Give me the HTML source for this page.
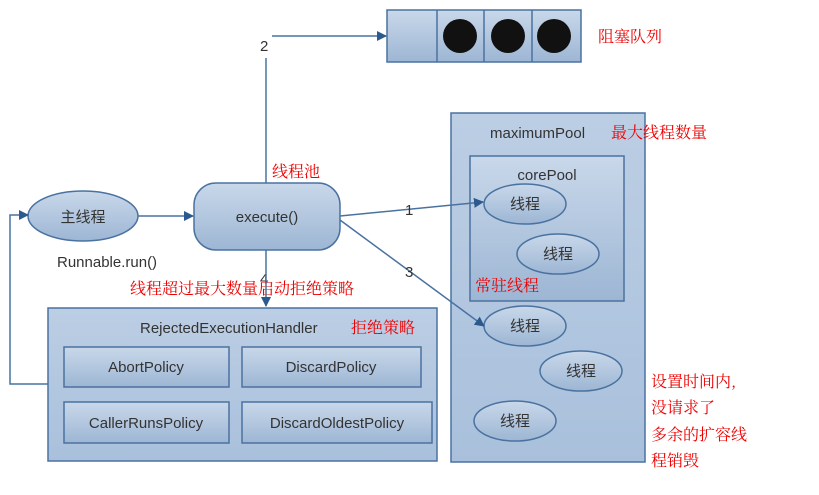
<!DOCTYPE html>
<html><head><meta charset="utf-8"><style>
body{margin:0;background:#fff;width:819px;height:490px;overflow:hidden}
text{font-family:"Liberation Sans","Noto Sans CJK SC",sans-serif}
.r{fill:#e00;font-family:"Noto Serif CJK SC","WenQuanYi Zen Hei",serif;font-size:16px}
.k{fill:#333;font-size:15px}
</style></head><body>
<svg width="819" height="490" xmlns="http://www.w3.org/2000/svg">
<defs>
<linearGradient id="g" x1="0" y1="0" x2="0" y2="1"><stop offset="0" stop-color="#c9d8ea"/><stop offset="1" stop-color="#9db6d4"/></linearGradient>
<linearGradient id="g2" x1="0" y1="0" x2="0" y2="1"><stop offset="0" stop-color="#bccee4"/><stop offset="1" stop-color="#a9c0dc"/></linearGradient>
<marker id="a" markerWidth="10" markerHeight="10" refX="9" refY="5" orient="auto" markerUnits="userSpaceOnUse"><path d="M0,0L10,5L0,10z" fill="#2d5a8e"/></marker>
</defs>
<!-- queue -->
<rect x="387" y="10" width="194" height="52" fill="url(#g)" stroke="#4a72a0" stroke-width="1.5"/>
<g stroke="#4a72a0" stroke-width="1.5"><line x1="437" y1="10" x2="437" y2="62"/><line x1="484" y1="10" x2="484" y2="62"/><line x1="532" y1="10" x2="532" y2="62"/></g>
<g fill="#111"><circle cx="460" cy="36" r="17"/><circle cx="508" cy="36" r="17"/><circle cx="554" cy="36" r="17"/></g>
<text x="598" y="42" class="r">阻塞队列</text>
<!-- main -->
<ellipse cx="83" cy="216" rx="55" ry="25" fill="url(#g)" stroke="#4a72a0" stroke-width="1.5"/>
<text x="83" y="222" class="k" text-anchor="middle">主线程</text>
<text x="57" y="267" class="k">Runnable.run()</text>
<rect x="194" y="183" width="146" height="67" rx="22" fill="url(#g)" stroke="#4a72a0" stroke-width="1.5"/>
<text x="267" y="222" class="k" text-anchor="middle">execute()</text>
<text x="272" y="177" class="r">线程池</text>
<text x="260" y="51" class="k">2</text>
<text x="260" y="284" class="k">4</text>
<text x="130" y="294" class="r">线程超过最大数量启动拒绝策略</text>
<!-- rejected -->
<rect x="48" y="308" width="389" height="153" fill="url(#g2)" stroke="#4a72a0" stroke-width="1.5"/>
<text x="140" y="333" class="k">RejectedExecutionHandler</text>
<text x="351" y="333" class="r">拒绝策略</text>
<g fill="url(#g)" stroke="#4a72a0" stroke-width="1.5">
<rect x="64" y="347" width="165" height="40"/><rect x="242" y="347" width="179" height="40"/>
<rect x="64" y="402" width="165" height="41"/><rect x="242" y="402" width="190" height="41"/></g>
<g text-anchor="middle">
<text x="146" y="372" class="k">AbortPolicy</text><text x="331" y="372" class="k">DiscardPolicy</text>
<text x="146" y="428" class="k">CallerRunsPolicy</text><text x="337" y="428" class="k">DiscardOldestPolicy</text></g>
<!-- maximum pool -->
<rect x="451" y="113" width="194" height="349" fill="url(#g2)" stroke="#4a72a0" stroke-width="1.5"/>
<text x="490" y="138" class="k">maximumPool</text>
<text x="611" y="138" class="r">最大线程数量</text>
<rect x="470" y="156" width="154" height="145" fill="url(#g)" stroke="#4a72a0" stroke-width="1.5"/>
<text x="547" y="180" class="k" text-anchor="middle">corePool</text>
<g fill="url(#g)" stroke="#4a72a0" stroke-width="1.5">
<ellipse cx="525" cy="204" rx="41" ry="20"/><ellipse cx="558" cy="254" rx="41" ry="20"/>
<ellipse cx="525" cy="326" rx="41" ry="20"/><ellipse cx="581" cy="371" rx="41" ry="20"/>
<ellipse cx="515" cy="421" rx="41" ry="20"/></g>
<g text-anchor="middle">
<text x="525" y="209" class="k">线程</text><text x="558" y="259" class="k">线程</text>
<text x="525" y="331" class="k">线程</text><text x="581" y="376" class="k">线程</text>
<text x="515" y="426" class="k">线程</text></g>
<text x="475" y="291" class="r">常驻线程</text>
<text x="651" y="387" class="r">设置时间内,</text>
<text x="651" y="413" class="r">没请求了</text>
<text x="651" y="440" class="r">多余的扩容线</text>
<text x="651" y="466" class="r">程销毁</text>
<!-- connectors on top -->
<g stroke="#4a72a0" stroke-width="1.5" fill="none">
<polyline points="48,384 10,384 10,215 28,215" marker-end="url(#a)"/>
<line x1="138" y1="216" x2="193" y2="216" marker-end="url(#a)"/>
<polyline points="266,183 266,58"/><polyline points="272,36 386,36" marker-end="url(#a)"/>
<line x1="266" y1="250" x2="266" y2="306" marker-end="url(#a)"/>
<line x1="340" y1="216" x2="483" y2="202" marker-end="url(#a)"/>
<line x1="340" y1="220" x2="484" y2="326" marker-end="url(#a)"/>
</g>
<text x="405" y="215" class="k">1</text>
<text x="405" y="277" class="k">3</text>
</svg>
</body></html>
